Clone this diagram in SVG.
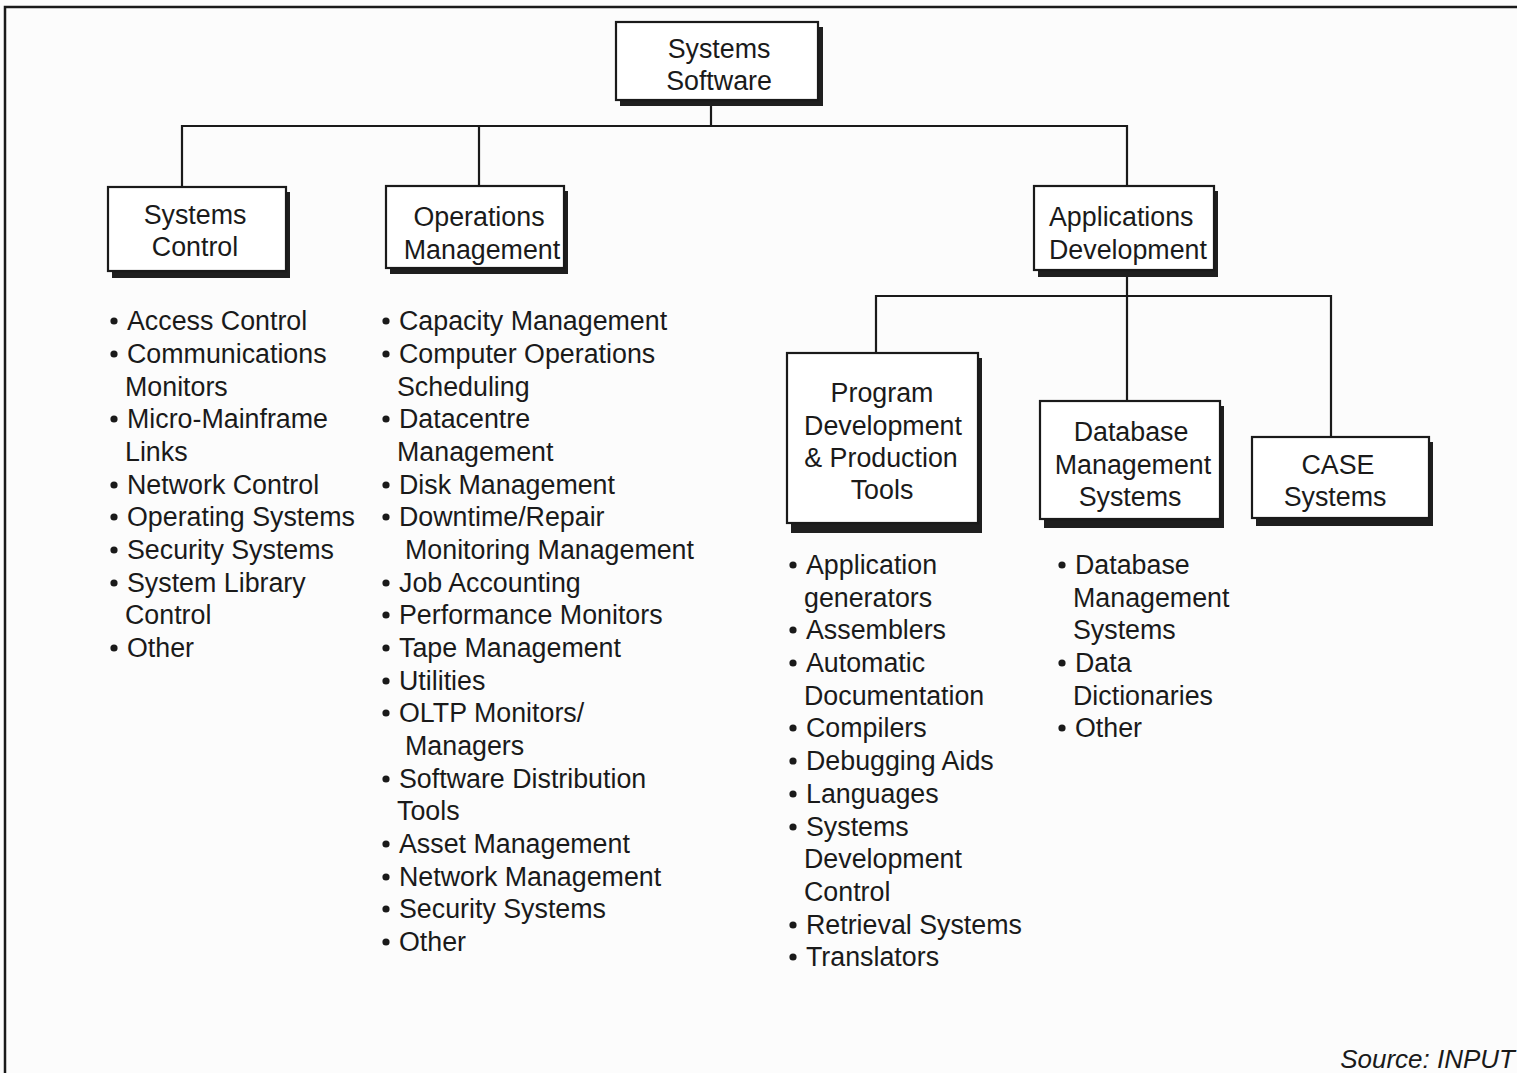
<svg xmlns="http://www.w3.org/2000/svg" width="1517" height="1073" viewBox="0 0 1517 1073">
  <style>
    .bg { fill: #fcfcfc; }
    .frame { fill: none; stroke: #1a1a1a; stroke-width: 2.5; }
    .box { fill: #ffffff; stroke: #1a1a1a; stroke-width: 2.2; }
    .shadow { fill: #1f1f1f; }
    .conn { fill: none; stroke: #1a1a1a; stroke-width: 2.2; }
    text { font-family: "Liberation Sans", Arial, sans-serif; font-size: 26.8px; fill: #1a1a1a; }
    .title { text-anchor: middle; }
    .dot { fill: #1a1a1a; }
    .src { font-style: italic; font-size: 26px; text-anchor: end; }
  </style>
  <defs>
    <circle id="bullet" r="3.6" class="dot"/>
  </defs>

  <rect class="bg" x="0" y="0" width="1517" height="1073"/>
  <!-- outer frame: top rule and left rule -->
  <path class="frame" d="M5,1073 V7 H1517"/>

  <!-- connectors -->
  <g id="connectors">
    <path class="conn" d="M711,103 V126"/>
    <path class="conn" d="M182,187 V126 H1127 V187"/>
    <path class="conn" d="M479,126 V187"/>
    <path class="conn" d="M1127,276 V401"/>
    <path class="conn" d="M876,353 V296 H1331 V437"/>
  </g>

  <!-- top node -->
  <g id="systems-software">
    <rect class="shadow" x="620" y="27" width="203" height="79"/>
    <rect class="box" x="616" y="22" width="202" height="78"/>
    <text class="title" x="719" y="58">Systems</text>
    <text class="title" x="719" y="90">Software</text>
  </g>

  <!-- second level -->
  <g id="systems-control">
    <rect class="shadow" x="112" y="192" width="178" height="86"/>
    <rect class="box" x="108" y="187" width="178" height="84"/>
    <text class="title" x="195" y="224">Systems</text>
    <text class="title" x="195" y="256">Control</text>
  </g>

  <g id="operations-management">
    <rect class="shadow" x="390" y="191" width="178" height="83"/>
    <rect class="box" x="386" y="186" width="178" height="82"/>
    <text class="title" x="479" y="226">Operations</text>
    <text class="title" x="482" y="259">Management</text>
  </g>

  <g id="applications-development">
    <rect class="shadow" x="1038" y="191" width="180" height="86"/>
    <rect class="box" x="1034" y="186" width="180" height="84"/>
    <text x="1049" y="226">Applications</text>
    <text x="1049" y="259">Development</text>
  </g>

  <!-- third level -->
  <g id="program-development">
    <rect class="shadow" x="791" y="358" width="191" height="175"/>
    <rect class="box" x="787" y="353" width="191" height="170"/>
    <text class="title" x="882" y="402">Program</text>
    <text class="title" x="883" y="435">Development</text>
    <text class="title" x="881" y="467">&amp; Production</text>
    <text class="title" x="882" y="499">Tools</text>
  </g>

  <g id="database-management">
    <rect class="shadow" x="1044" y="406" width="180" height="122"/>
    <rect class="box" x="1040" y="401" width="180" height="118"/>
    <text class="title" x="1131" y="441">Database</text>
    <text class="title" x="1133" y="474">Management</text>
    <text class="title" x="1130" y="506">Systems</text>
  </g>

  <g id="case-systems">
    <rect class="shadow" x="1256" y="442" width="177" height="84"/>
    <rect class="box" x="1252" y="437" width="177" height="81"/>
    <text class="title" x="1338" y="474">CASE</text>
    <text class="title" x="1335" y="506">Systems</text>
  </g>

  <!-- item lists -->
  <g id="list-systems-control">
    <use href="#bullet" x="114" y="321"/><text x="127" y="330">Access Control</text>
    <use href="#bullet" x="114" y="354"/><text x="127" y="363">Communications</text>
    <text x="125" y="396">Monitors</text>
    <use href="#bullet" x="114" y="419"/><text x="127" y="428">Micro-Mainframe</text>
    <text x="125" y="461">Links</text>
    <use href="#bullet" x="114" y="485"/><text x="127" y="494">Network Control</text>
    <use href="#bullet" x="114" y="517"/><text x="127" y="526">Operating Systems</text>
    <use href="#bullet" x="114" y="550"/><text x="127" y="559">Security Systems</text>
    <use href="#bullet" x="114" y="583"/><text x="127" y="592">System Library</text>
    <text x="125" y="624">Control</text>
    <use href="#bullet" x="114" y="648"/><text x="127" y="657">Other</text>
  </g>

  <g id="list-operations-management">
    <use href="#bullet" x="386" y="321"/><text x="399" y="330">Capacity Management</text>
    <use href="#bullet" x="386" y="354"/><text x="399" y="363">Computer Operations</text>
    <text x="397" y="396">Scheduling</text>
    <use href="#bullet" x="386" y="419"/><text x="399" y="428">Datacentre</text>
    <text x="397" y="461">Management</text>
    <use href="#bullet" x="386" y="485"/><text x="399" y="494">Disk Management</text>
    <use href="#bullet" x="386" y="517"/><text x="399" y="526">Downtime/Repair</text>
    <text x="405" y="559">Monitoring Management</text>
    <use href="#bullet" x="386" y="583"/><text x="399" y="592">Job Accounting</text>
    <use href="#bullet" x="386" y="615"/><text x="399" y="624">Performance Monitors</text>
    <use href="#bullet" x="386" y="648"/><text x="399" y="657">Tape Management</text>
    <use href="#bullet" x="386" y="681"/><text x="399" y="690">Utilities</text>
    <use href="#bullet" x="386" y="713"/><text x="399" y="722">OLTP Monitors/</text>
    <text x="405" y="755">Managers</text>
    <use href="#bullet" x="386" y="779"/><text x="399" y="788">Software Distribution</text>
    <text x="397" y="820">Tools</text>
    <use href="#bullet" x="386" y="844"/><text x="399" y="853">Asset Management</text>
    <use href="#bullet" x="386" y="877"/><text x="399" y="886">Network Management</text>
    <use href="#bullet" x="386" y="909"/><text x="399" y="918">Security Systems</text>
    <use href="#bullet" x="386" y="942"/><text x="399" y="951">Other</text>
  </g>

  <g id="list-program-development">
    <use href="#bullet" x="793" y="565"/><text x="806" y="574">Application</text>
    <text x="804" y="607">generators</text>
    <use href="#bullet" x="793" y="630"/><text x="806" y="639">Assemblers</text>
    <use href="#bullet" x="793" y="663"/><text x="806" y="672">Automatic</text>
    <text x="804" y="705">Documentation</text>
    <use href="#bullet" x="793" y="728"/><text x="806" y="737">Compilers</text>
    <use href="#bullet" x="793" y="761"/><text x="806" y="770">Debugging Aids</text>
    <use href="#bullet" x="793" y="794"/><text x="806" y="803">Languages</text>
    <use href="#bullet" x="793" y="827"/><text x="806" y="836">Systems</text>
    <text x="804" y="868">Development</text>
    <text x="804" y="901">Control</text>
    <use href="#bullet" x="793" y="925"/><text x="806" y="934">Retrieval Systems</text>
    <use href="#bullet" x="793" y="957"/><text x="806" y="966">Translators</text>
  </g>

  <g id="list-database-management">
    <use href="#bullet" x="1062" y="565"/><text x="1075" y="574">Database</text>
    <text x="1073" y="607">Management</text>
    <text x="1073" y="639">Systems</text>
    <use href="#bullet" x="1062" y="663"/><text x="1075" y="672">Data</text>
    <text x="1073" y="705">Dictionaries</text>
    <use href="#bullet" x="1062" y="728"/><text x="1075" y="737">Other</text>
  </g>

  <text class="src" x="1515" y="1068">Source: INPUT</text>
</svg>
